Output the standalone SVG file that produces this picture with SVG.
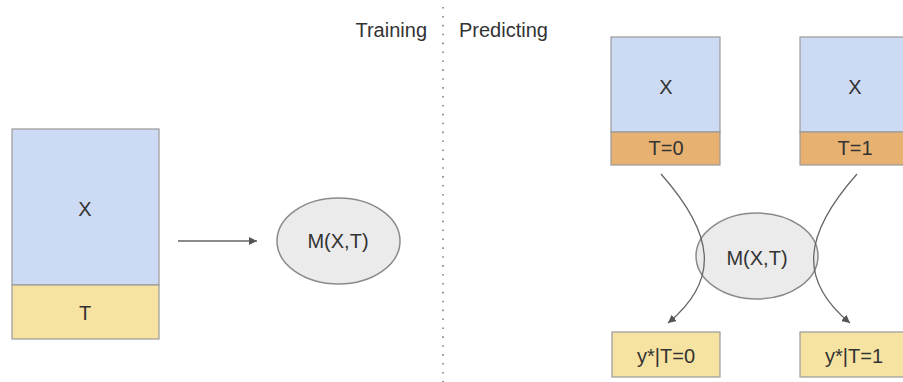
<svg xmlns="http://www.w3.org/2000/svg" width="903" height="382" viewBox="0 0 903 382">
<style>
text{font-family:"Liberation Sans",Arial,sans-serif;font-size:20px;fill:#333;text-anchor:middle}
.x{fill:#cddaf3;stroke:#9a9a9a;stroke-width:1.2}
.t{fill:#f6e3a2;stroke:#9a9a9a;stroke-width:1.2}
.o{fill:#e7b271;stroke:#9a9a9a;stroke-width:1.2}
.m{fill:#ebebeb;stroke:#8a8a8a;stroke-width:1.5}
.c{fill:none;stroke:#666;stroke-width:1.3}
</style>
<defs>
<marker id="ah" viewBox="0 0 10 10" refX="10" refY="5" markerWidth="8" markerHeight="8" markerUnits="userSpaceOnUse" orient="auto">
<path d="M0,0 L10,5 L0,10 Z" fill="#555"/>
</marker>
</defs>
<rect width="903" height="382" fill="#fff"/>
<line x1="443" y1="7" x2="443" y2="382" stroke="#999" stroke-width="2" stroke-dasharray="1.6 7.3"/>
<text x="427" y="37" style="text-anchor:end">Training</text>
<text x="459" y="37" style="text-anchor:start">Predicting</text>
<g id="train-data">
<rect class="x" x="12" y="129" width="147" height="156"/>
<rect class="t" x="12" y="285" width="147" height="54"/>
<text x="85" y="216">X</text>
<text x="85" y="320">T</text>
</g>
<g id="model-train">
<ellipse class="m" cx="338.5" cy="241" rx="61.5" ry="43"/>
<text x="338" y="248">M(X,T)</text>
</g>
<g id="data-t0">
<rect class="x" x="611" y="37" width="109" height="95"/>
<rect class="o" x="611" y="132" width="109" height="33"/>
<text x="666" y="94">X</text>
<text x="666" y="155">T=0</text>
</g>
<g id="data-t1">
<rect class="x" x="800" y="37" width="110" height="95"/>
<rect class="o" x="800" y="132" width="110" height="33"/>
<text x="855" y="94">X</text>
<text x="855" y="155">T=1</text>
</g>
<g id="model-predict">
<ellipse class="m" cx="757" cy="256" rx="61" ry="43"/>
<text x="757" y="265">M(X,T)</text>
</g>
<g id="out-t0">
<rect class="t" x="612" y="332" width="108" height="45"/>
<text x="666" y="363">y*|T=0</text>
</g>
<g id="out-t1">
<rect class="t" x="800" y="332" width="110" height="45"/>
<text x="854" y="363">y*|T=1</text>
</g>
<g id="connectors">
<line class="c" x1="178" y1="241" x2="257" y2="241" marker-end="url(#ah)"/>
<path class="c" d="M661,174 C715,235 720,280 668,323" marker-end="url(#ah)"/>
<path class="c" d="M857,174 C803,235 798,280 850,323" marker-end="url(#ah)"/>
</g>
</svg>
